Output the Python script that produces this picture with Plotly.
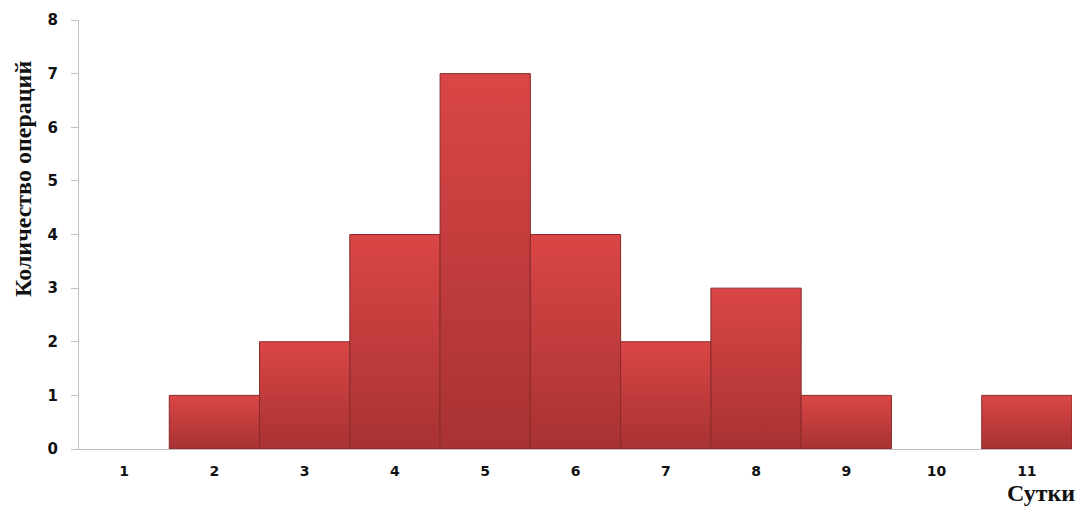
import plotly.graph_objects as go

# Histogram data: number of operations per day
days = [1, 2, 3, 4, 5, 6, 7, 8, 9, 10, 11]
day_labels = ["1", "2", "3", "4", "5", "6", "7", "8", "9", "10", "11"]
operations = [0, 1, 2, 4, 7, 4, 2, 3, 1, 0, 1]

y_ticks = [0, 1, 2, 3, 4, 5, 6, 7, 8]

BAR_TOP = "#DA4646"
BAR_BOTTOM = "#A83232"
BAR_EDGE = "#8A2A2A"

fig = go.Figure()

# Each bar is a filled rectangle with a vertical gradient (lighter on top)
for d, v in zip(days, operations):
    if v <= 0:
        continue
    xs = [d - 0.5, d + 0.5, d + 0.5, d - 0.5, d - 0.5]
    ys = [0, 0, v, v, 0]
    fig.add_trace(go.Scatter(
        x=xs, y=ys, mode="lines", fill="toself",
        fillgradient=dict(type="vertical",
                          colorscale=[[0, BAR_BOTTOM], [1, BAR_TOP]]),
        line=dict(color=BAR_EDGE, width=1),
        hoverinfo="skip", showlegend=False,
    ))

fig.update_layout(
    width=1078, height=508,
    margin=dict(l=79, r=6, t=20, b=59),
    paper_bgcolor="white", plot_bgcolor="white",
    showlegend=False,
    xaxis=dict(
        range=[0.5, 11.5],
        tickvals=days, ticktext=[f"<b>{t}</b>" for t in day_labels],
        tickfont=dict(family="DejaVu Sans", size=14, color="#111111"),
        showgrid=False, zeroline=False,
        showline=True, linecolor="#BFBFBF", linewidth=1,
        ticks="", ticklabelstandoff=9,
    ),
    yaxis=dict(
        range=[0, 8],
        tickvals=y_ticks, ticktext=[f"<b>{t}</b>" for t in y_ticks],
        tickfont=dict(family="DejaVu Sans", size=15, color="#111111"),
        showgrid=False, zeroline=False,
        showline=True, linecolor="#BFBFBF", linewidth=1,
        ticks="outside", ticklen=7, tickcolor="#BFBFBF",
        ticklabelstandoff=10,
    ),
    annotations=[
        dict(text="<b>Количество операций</b>", textangle=-90,
             xref="paper", yref="paper",
             x=-79 / 993 + 23 / 993, y=(449 - 179) / 429,
             xanchor="center", yanchor="middle", showarrow=False,
             font=dict(family="Liberation Serif", size=24, color="#111111")),
        dict(text="<b>Сутки</b>",
             xref="paper", yref="paper",
             x=(1076 - 79) / 993, y=-(507 - 449) / 429,
             xanchor="right", yanchor="bottom", showarrow=False,
             borderpad=0,
             font=dict(family="Liberation Serif", size=24, color="#111111")),
    ],
)

fig.write_html("out.html")
